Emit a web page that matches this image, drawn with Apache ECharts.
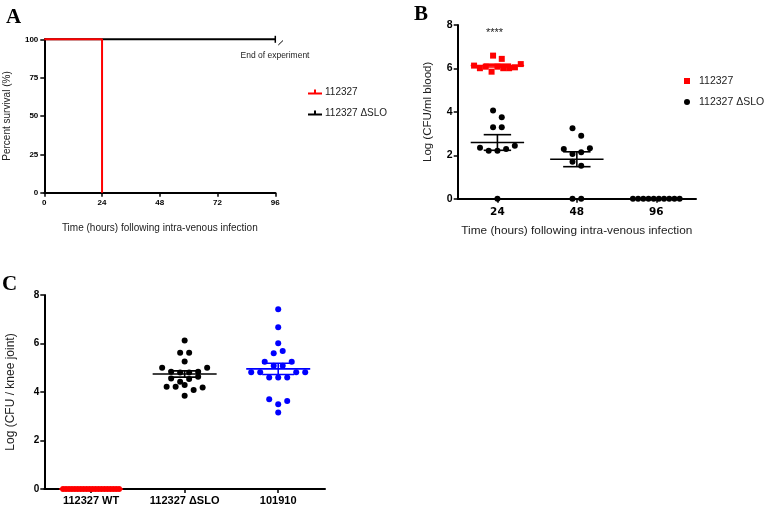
<!DOCTYPE html>
<html><head><meta charset="utf-8">
<script src="https://cdn.jsdelivr.net/npm/echarts@6/dist/echarts.min.js"></script>
<style>html,body{margin:0;padding:0;background:#fff}#c{width:768px;height:510px}</style>
</head><body><div id="c"></div>
<script>
// ---------- Panel A: survival ----------
const survTimeTicks = [0, 24, 48, 72, 96];
const survWT_time = [0, 24, 24];
const survWT_pct = [100, 100, 0];
const survDSLO_time = [0, 96];
const survDSLO_pct = [100, 100];

// ---------- Panel B: blood CFU ----------
const bloodCats = ['24', '48', '96'];
const blood112327_24 = [6.59, 6.44, 6.13, 6.01, 6.08, 5.85, 6.08, 6.01, 6.01, 6.05, 6.2];
const bloodDSLO_24 = [4.06, 3.75, 3.29, 3.29, 2.35, 2.21, 2.21, 2.29, 2.44, 0];
const bloodDSLO_48 = [3.24, 2.9, 2.29, 2.06, 2.14, 2.32, 1.7, 1.52, 0, 0];
const bloodDSLO_96 = [0, 0, 0, 0, 0, 0, 0, 0, 0, 0];

// ---------- Panel C: knee joint CFU ----------
const jointCats = ['112327 WT', '112327 ΔSLO', '101910'];
const jointWT = [0, 0, 0, 0, 0, 0, 0, 0, 0, 0, 0, 0, 0, 0, 0, 0, 0, 0, 0, 0];
const jointDSLO = [6.12, 5.62, 5.62, 5.26, 5.0, 4.83, 4.8, 4.8, 4.83, 5.0, 4.56, 4.42, 4.54, 4.63, 4.22, 4.22, 4.29, 4.08, 4.19, 3.85];
const joint101910 = [7.41, 6.67, 6.01, 5.6, 5.69, 5.25, 5.08, 5.08, 5.25, 4.81, 4.81, 4.6, 4.6, 4.6, 4.81, 4.81, 3.7, 3.5, 3.63, 3.15];

const logTicks = [0, 2, 4, 6, 8];

// ---------- helpers ----------
const FONT = 'Arial, "Liberation Sans", Helvetica, sans-serif';
const RED = '#ff0000', BLUE = '#0000ff', BLACK = '#000000';

// GraphPad-like row swarm: points close in value share a row, spread symmetrically (pixel offsets)
function swarmOffsets(vals, thr, maxSp, maxSpread) {
  const idx = vals.map((v, i) => i).sort((a, b) => (vals[b] - vals[a]) || (a - b));
  const rows = []; let cur = null;
  idx.forEach(i => {
    if (!cur || cur.top - vals[i] > thr + 1e-9) { cur = { top: vals[i], m: [] }; rows.push(cur); }
    cur.m.push(i);
  });
  const off = vals.map(() => 0);
  rows.forEach(r => {
    r.m.sort((a, b) => a - b);
    const n = r.m.length;
    const sp = n > 1 ? Math.min(maxSp, maxSpread / (n - 1)) : 0;
    r.m.forEach((i, k) => { off[i] = (k - (n - 1) / 2) * sp; });
  });
  return off;
}
function mean(a) { return a.reduce((s, v) => s + v, 0) / a.length; }
function sem(a) {
  const m = mean(a);
  const sd = Math.sqrt(a.reduce((s, v) => s + (v - m) * (v - m), 0) / (a.length - 1));
  return sd / Math.sqrt(a.length);
}
function swarmData(cat, vals, thr, maxSp, maxSpread) {
  const off = swarmOffsets(vals, thr, maxSp, maxSpread);
  return vals.map((v, i) => ({ value: [cat, v], symbolOffset: [off[i], 0] }));
}
function meanSemRenderer(colors, halfW, capW) {
  return function (params, api) {
    const x = api.value(0), m = api.value(1), s = api.value(2);
    const c = api.coord([x, m]);
    const t = api.coord([x, m + s]);
    const b = api.coord([x, m - s]);
    const st = { stroke: colors[params.dataIndex], lineWidth: 1.6 };
    return {
      type: 'group', children: [
        { type: 'line', shape: { x1: c[0] - halfW, y1: c[1], x2: c[0] + halfW, y2: c[1] }, style: st },
        { type: 'line', shape: { x1: c[0], y1: t[1], x2: c[0], y2: b[1] }, style: st },
        { type: 'line', shape: { x1: c[0] - capW, y1: t[1], x2: c[0] + capW, y2: t[1] }, style: st },
        { type: 'line', shape: { x1: c[0] - capW, y1: b[1], x2: c[0] + capW, y2: b[1] }, style: st }
      ]
    };
  };
}
const axisLine = { show: true, lineStyle: { color: BLACK, width: 2 } };
const axisTick = { show: true, length: 4, lineStyle: { color: BLACK, width: 1.5 } };

// ---------- option ----------
const chart = echarts.init(document.getElementById('c'));
const option = {
  animation: false,
  backgroundColor: '#fff',
  grid: [
    { left: 44.3, top: 39.3, width: 231, height: 153.4 },
    { left: 457.7, top: 25, width: 238.3, height: 173.7 },
    { left: 44.3, top: 295, width: 280.7, height: 194 }
  ],
  xAxis: [
    {
      gridIndex: 0, type: 'value', min: survTimeTicks[0], max: survTimeTicks[survTimeTicks.length - 1], interval: 24,
      axisLine, axisTick, splitLine: { show: false },
      axisLabel: { margin: 6, color: BLACK, fontWeight: 'bold', fontSize: 8, fontFamily: FONT },
      name: 'Time (hours) following intra-venous infection', nameLocation: 'middle', nameGap: 31,
      nameTextStyle: { fontSize: 10, color: '#222', fontFamily: FONT }
    },
    {
      gridIndex: 1, type: 'category', data: bloodCats, boundaryGap: true,
      axisLine, axisTick: Object.assign({ alignWithLabel: true }, axisTick), splitLine: { show: false },
      axisLabel: { margin: 8, color: BLACK, fontWeight: 'bold', fontSize: 10.5, fontFamily: '"DejaVu Sans", Arial, sans-serif' },
      name: 'Time (hours) following intra-venous infection', nameLocation: 'middle', nameGap: 26,
      nameTextStyle: { fontSize: 11.8, color: '#222', fontFamily: FONT }
    },
    {
      gridIndex: 2, type: 'category', data: jointCats, boundaryGap: true,
      axisLine, axisTick: Object.assign({ alignWithLabel: true }, axisTick), splitLine: { show: false },
      axisLabel: { margin: 6, color: BLACK, fontWeight: 'bold', fontSize: 11, fontFamily: FONT }
    }
  ],
  yAxis: [
    {
      gridIndex: 0, type: 'value', min: 0, max: 100, interval: 25,
      axisLine, axisTick, splitLine: { show: false },
      axisLabel: { margin: 6, color: BLACK, fontWeight: 'bold', fontSize: 8, fontFamily: FONT },
      name: 'Percent survival (%)', nameLocation: 'middle', nameGap: 32,
      nameTextStyle: { fontSize: 10, color: '#222', fontFamily: FONT }
    },
    {
      gridIndex: 1, type: 'value', min: logTicks[0], max: logTicks[logTicks.length - 1], interval: 2,
      axisLine, axisTick, splitLine: { show: false },
      axisLabel: { margin: 5, color: BLACK, fontWeight: 'bold', fontSize: 10.5, fontFamily: FONT },
      name: 'Log (CFU/ml blood)', nameLocation: 'middle', nameGap: 24,
      nameTextStyle: { fontSize: 11.5, color: '#222', fontFamily: FONT }
    },
    {
      gridIndex: 2, type: 'value', min: logTicks[0], max: logTicks[logTicks.length - 1], interval: 2,
      axisLine, axisTick, splitLine: { show: false },
      axisLabel: { margin: 5, color: BLACK, fontWeight: 'bold', fontSize: 10, fontFamily: FONT },
      name: 'Log (CFU / knee joint)', nameLocation: 'middle', nameGap: 28,
      nameTextStyle: { fontSize: 12, color: '#222', fontFamily: FONT }
    }
  ],
  legend: [
    {
      left: 308, top: 87, orient: 'vertical', itemGap: 11, itemWidth: 14, itemHeight: 5, padding: 0,
      textStyle: { fontSize: 10, color: '#222', fontFamily: FONT, padding: [0, 0, 0, -2] },
      itemStyle: { borderWidth: 0 },
      data: [
        { name: '112327', icon: 'path://M0,3h14v2h-14z M6,0h2v3h-2z', itemStyle: { color: RED, borderWidth: 0 } },
        { name: '112327 ΔSLO', icon: 'path://M0,3h14v2h-14z M6,0h2v3h-2z', itemStyle: { color: BLACK, borderWidth: 0 } }
      ]
    },
    {
      left: 684, top: 75.5, orient: 'vertical', itemGap: 10, itemWidth: 6, itemHeight: 6, padding: 0,
      textStyle: { fontSize: 10.5, color: '#222', fontFamily: FONT, padding: [0, 0, 0, 4] },
      itemStyle: { borderWidth: 0 },
      data: [
        { name: '112327', icon: 'rect', itemStyle: { color: RED, borderWidth: 0, opacity: 1 } },
        { name: '112327 ΔSLO', icon: 'circle', itemStyle: { color: BLACK, borderWidth: 0, opacity: 1 } }
      ]
    }
  ],
  series: [
    // Panel A
    {
      type: 'line', name: '112327 ΔSLO', xAxisIndex: 0, yAxisIndex: 0, clip: false, z: 2,
      color: BLACK, lineStyle: { color: BLACK, width: 2 }, symbol: 'none', showSymbol: true,
      data: survDSLO_time.map((t, i) => i === survDSLO_time.length - 1
        ? { value: [t, survDSLO_pct[i]], symbol: 'rect', symbolSize: [1.5, 7], itemStyle: { color: BLACK } }
        : [t, survDSLO_pct[i]])
    },
    {
      type: 'line', name: '112327', xAxisIndex: 0, yAxisIndex: 0, clip: false, z: 3,
      color: RED, lineStyle: { color: RED, width: 2 }, symbol: 'none',
      data: survWT_time.map((t, i) => [t, survWT_pct[i]])
    },
    // Panel B
    {
      type: 'scatter', name: '112327', xAxisIndex: 1, yAxisIndex: 1, clip: false, z: 3,
      symbol: 'rect', symbolSize: 6, itemStyle: { color: RED, opacity: 1 },
      data: swarmData('24', blood112327_24, 0.36, 8.7, 46.7)
    },
    {
      type: 'scatter', name: '112327 ΔSLO', xAxisIndex: 1, yAxisIndex: 1, clip: false, z: 3,
      symbol: 'circle', symbolSize: 6, itemStyle: { color: BLACK, opacity: 1 },
      data: [].concat(
        swarmData('24', bloodDSLO_24, 0.36, 8.7, 46.7),
        swarmData('48', bloodDSLO_48, 0.36, 8.7, 46.7),
        swarmData('96', bloodDSLO_96, 0.36, 8.7, 46.7))
    },
    {
      type: 'custom', name: 'meanB', xAxisIndex: 1, yAxisIndex: 1, z: 5, clip: false,
      renderItem: meanSemRenderer([RED, BLACK, BLACK, BLACK], 26.7, 13.7),
      data: [
        ['24', mean(blood112327_24), sem(blood112327_24)],
        ['24', mean(bloodDSLO_24), sem(bloodDSLO_24)],
        ['48', mean(bloodDSLO_48), sem(bloodDSLO_48)],
        ['96', mean(bloodDSLO_96), sem(bloodDSLO_96)]
      ]
    },
    // Panel C
    {
      type: 'scatter', name: 'C WT', xAxisIndex: 2, yAxisIndex: 2, clip: false, z: 3,
      symbol: 'circle', symbolSize: 6, itemStyle: { color: RED, opacity: 1 },
      data: swarmData(jointCats[0], jointWT, 0.235, 9, 56)
    },
    {
      type: 'scatter', name: 'C DSLO', xAxisIndex: 2, yAxisIndex: 2, clip: false, z: 3,
      symbol: 'circle', symbolSize: 6, itemStyle: { color: BLACK, opacity: 1 },
      data: swarmData(jointCats[1], jointDSLO, 0.235, 9, 56)
    },
    {
      type: 'scatter', name: 'C 101910', xAxisIndex: 2, yAxisIndex: 2, clip: false, z: 3,
      symbol: 'circle', symbolSize: 6, itemStyle: { color: BLUE, opacity: 1 },
      data: swarmData(jointCats[2], joint101910, 0.235, 9, 56)
    },
    {
      type: 'custom', name: 'meanC', xAxisIndex: 2, yAxisIndex: 2, z: 5, clip: false,
      renderItem: meanSemRenderer([RED, BLACK, BLUE], 32, 16),
      data: [
        [jointCats[0], mean(jointWT), sem(jointWT)],
        [jointCats[1], mean(jointDSLO), sem(jointDSLO)],
        [jointCats[2], mean(joint101910), sem(joint101910)]
      ]
    }
  ],
  graphic: [
    { type: 'text', left: 6, top: 7, style: { text: 'A', font: 'bold 21px "Liberation Serif", "Times New Roman", serif', fill: BLACK } },
    { type: 'text', left: 414, top: 4, style: { text: 'B', font: 'bold 21px "Liberation Serif", "Times New Roman", serif', fill: BLACK } },
    { type: 'text', left: 2, top: 274, style: { text: 'C', font: 'bold 21px "Liberation Serif", "Times New Roman", serif', fill: BLACK } },
    { type: 'text', left: 240.5, top: 51, style: { text: 'End of experiment', font: '8.5px ' + FONT, fill: '#222' } },
    { type: 'line', shape: { x1: 278.3, y1: 45, x2: 283, y2: 40.5 }, style: { stroke: BLACK, lineWidth: 1 } },
    { type: 'text', left: 486, top: 27, style: { text: '****', font: '11px ' + FONT, fill: '#222' } }
  ]
};
chart.setOption(option);
</script>
</body></html>
